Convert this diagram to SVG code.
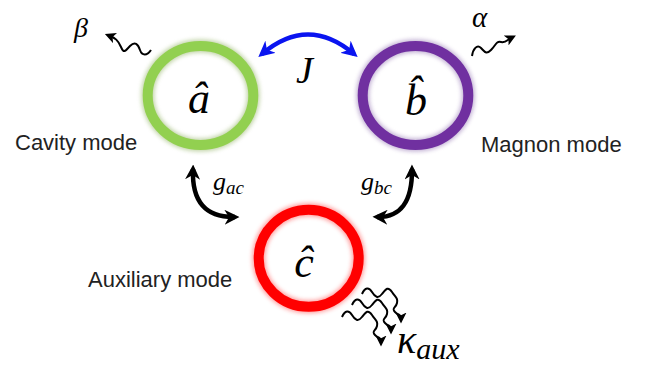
<svg xmlns="http://www.w3.org/2000/svg" xmlns:xlink="http://www.w3.org/1999/xlink" width="657" height="368" viewBox="0 0 657 368">
<defs>
<style>
.lbl{font-family:"Liberation Sans",Arial,sans-serif;font-size:22px;fill:#222;}
.math{font-family:"Liberation Serif","Times New Roman",serif;font-style:italic;fill:#000;}
.big{font-family:"Liberation Serif","Times New Roman",serif;font-style:italic;fill:#000;font-size:44px;text-anchor:middle;}
.ring{fill:none;stroke-width:10;}
.halo{fill:none;stroke-width:13;opacity:0.55;}
.wave{fill:none;stroke:#000;stroke-width:2;}
.dbl{fill:none;stroke:#000;stroke-width:4.5;}
.blu{fill:none;stroke:#0a14f0;stroke-width:4.5;}
</style>
<filter id="glow" x="-20%" y="-20%" width="140%" height="140%"><feGaussianBlur stdDeviation="2"/></filter>
<marker id="ahK" viewBox="0 0 10 10" refX="7" refY="5" markerWidth="15" markerHeight="15" markerUnits="userSpaceOnUse" orient="auto-start-reverse"><path d="M0,0 L10,5 L0,10 L3,5 Z" fill="#000"/></marker>
<marker id="ahB" viewBox="0 0 10 10" refX="7" refY="5" markerWidth="16" markerHeight="16" markerUnits="userSpaceOnUse" orient="auto-start-reverse"><path d="M0,0 L10,5 L0,10 L3,5 Z" fill="#0a14f0"/></marker>
<marker id="ahW" viewBox="0 0 10 10" refX="5" refY="5" markerWidth="11" markerHeight="11" markerUnits="userSpaceOnUse" orient="auto"><path d="M0,0 L10,5 L0,10 L2.5,5 Z" fill="#000"/></marker>
<path id="kwave" class="wave" marker-end="url(#ahW)" d="M362,294 C365,287 369,287 372,292 S378,299 382,294 S388,286 392,292 S398,298 397,303 S391,308 395,312 S401,314 401,318"/>
</defs>

<g id="node-a">
<ellipse class="halo" cx="200.5" cy="95.5" rx="52.8" ry="49.5" stroke="#8fb060" filter="url(#glow)"/>
<ellipse class="ring" cx="200.5" cy="95.5" rx="52.8" ry="49.5" stroke="#92d050"/>
<text class="big" x="199" y="113">â</text>
<text class="lbl" x="15" y="150">Cavity mode</text>
</g>

<g id="node-b">
<ellipse class="halo" cx="415.5" cy="95.5" rx="52.8" ry="49.5" stroke="#9070b0" filter="url(#glow)"/>
<ellipse class="ring" cx="415.5" cy="95.5" rx="52.8" ry="49.5" stroke="#7030a0"/>
<text class="big" x="416" y="115">b̂</text>
<text class="lbl" x="481" y="152">Magnon mode</text>
</g>

<g id="node-c">
<ellipse class="halo" cx="308.7" cy="258.3" rx="50" ry="48.5" stroke="#ff5050" filter="url(#glow)"/>
<ellipse class="ring" cx="308.7" cy="258.3" rx="50" ry="48.5" stroke="#ff0000"/>
<text class="big" x="304" y="277">ĉ</text>
<text class="lbl" x="88" y="287">Auxiliary mode</text>
</g>

<g id="connectors">
<path class="blu" marker-start="url(#ahB)" marker-end="url(#ahB)" d="M262,54 Q308,15 354,54"/>
<path class="dbl" marker-start="url(#ahK)" marker-end="url(#ahK)" d="M193,169 Q191,218 235,217"/>
<path class="dbl" marker-start="url(#ahK)" marker-end="url(#ahK)" d="M412,169 Q412.5,218 377,217"/>
<path class="wave" marker-end="url(#ahW)" d="M151,50 C147,56 142,56 140,50 S135,41 130,46 S124,54 121,47 S115,38 110,36"/>
<path class="wave" marker-end="url(#ahW)" d="M472,56 C473,49 477,44 481,48 S486,55 491,50 S496,41 501,42 S507,40 511,38"/>
<use xlink:href="#kwave"/>
<use xlink:href="#kwave" transform="translate(-10,11)"/>
<use xlink:href="#kwave" transform="translate(-20,23)"/>
</g>

<g id="labels">
<text class="math" x="296" y="83" font-size="38">J</text>
<text class="math" x="74" y="37" font-size="28">β</text>
<text class="math" x="472" y="27" font-size="29">α</text>
<text class="math" x="213" y="190" font-size="26">g<tspan font-size="19" dy="4">ac</tspan></text>
<text class="math" x="361" y="190" font-size="26">g<tspan font-size="19" dy="4">bc</tspan></text>
<text class="math" x="397" y="353" font-size="40">κ<tspan font-size="30" dy="6">aux</tspan></text>
</g>
</svg>
